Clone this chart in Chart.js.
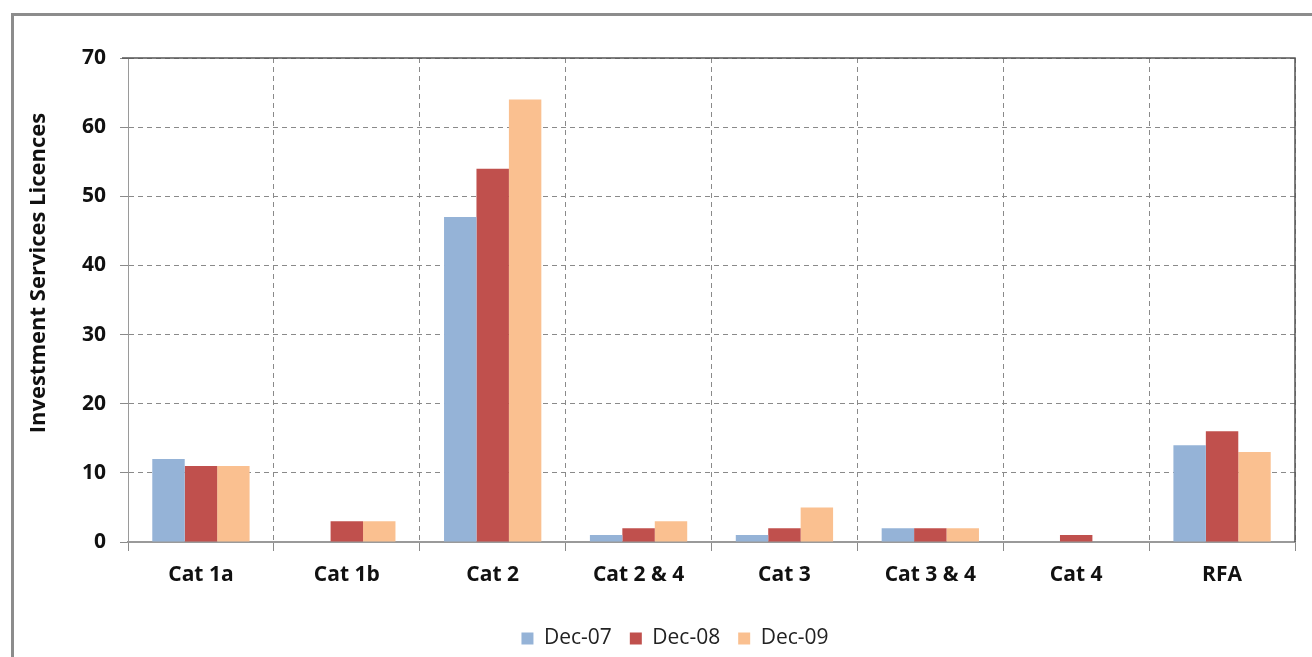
<!DOCTYPE html>
<html>
<head>
<meta charset="utf-8">
<style>
  html, body { margin: 0; padding: 0; background: #ffffff; }
  #wrap { width: 1312px; height: 657px; position: relative; }
</style>
<script src="https://cdn.jsdelivr.net/npm/chart.js@4.4.1/dist/chart.umd.min.js"></script>
</head>
<body>
<div id="wrap"><canvas id="chart" width="1312" height="657"></canvas></div>
<script>
// Investment services licences by category, year-end counts
const categories = ['Cat 1a', 'Cat 1b', 'Cat 2', 'Cat 2 & 4', 'Cat 3', 'Cat 3 & 4', 'Cat 4', 'RFA'];
const seriesNames = ['Dec-07', 'Dec-08', 'Dec-09'];
const dec07 = [12, 0, 47, 1, 1, 2, 0, 14];
const dec08 = [11, 3, 54, 2, 2, 2, 1, 16];
const dec09 = [11, 3, 64, 3, 5, 2, 0, 13];
const yTicks = [0, 10, 20, 30, 40, 50, 60, 70];
const yTitle = 'Investment Services Licences';

const colors = ['#95B3D7', '#C0504D', '#FAC090'];
const BOLD_FONT = '"Open Sans", Lato, sans-serif';
const LEGEND_FONT = '"Open Sans", Lato, sans-serif';

// Outer frame, solid top/right plot edges and the rotated y-axis title
const framePlugin = {
  id: 'frame',
  beforeDraw(chart) {
    const ctx = chart.ctx;
    ctx.save();
    ctx.strokeStyle = '#8c8c8c';
    ctx.lineWidth = 3;
    ctx.strokeRect(12.5, 14.5, 1400, 800);
    ctx.restore();
  },
  afterDatasetsDraw(chart) {
    const { ctx, chartArea: a } = chart;
    ctx.save();
    ctx.strokeStyle = '#555555';
    ctx.lineWidth = 1.5;
    ctx.beginPath();
    ctx.moveTo(a.left - 6, a.top);
    ctx.lineTo(a.right, a.top);
    ctx.lineTo(a.right, a.bottom);
    ctx.stroke();
    ctx.restore();

    ctx.save();
    ctx.translate(39, 273);
    ctx.rotate(-Math.PI / 2);
    ctx.font = 'bold 22px ' + BOLD_FONT;
    ctx.fillStyle = '#111111';
    ctx.textAlign = 'center';
    ctx.textBaseline = 'middle';
    ctx.fillText(yTitle, 0, 0);
    ctx.restore();
  }
};

new Chart(document.getElementById('chart'), {
  type: 'bar',
  data: {
    labels: categories,
    datasets: [dec07, dec08, dec09].map((vals, i) => ({
      label: seriesNames[i],
      data: vals,
      backgroundColor: colors[i],
      borderWidth: 0,
      categoryPercentage: 0.667,
      barPercentage: 1.0
    }))
  },
  options: {
    responsive: false,
    animation: false,
    layout: { padding: { left: 55, top: 58, right: 17, bottom: -2 } },
    plugins: {
      tooltip: { enabled: false },
      legend: {
        position: 'bottom',
        labels: {
          boxWidth: 12,
          boxHeight: 12,
          padding: 18,
          color: '#222222',
          font: { family: LEGEND_FONT, size: 21 }
        }
      }
    },
    scales: {
      x: {
        grid: {
          offset: true,
          color: '#8a8a8a',
          lineWidth: 1,
          tickLength: 9,
          tickColor: '#8a8a8a',
          tickBorderDash: []
        },
        border: { display: true, color: '#9a9a9a', width: 2, dash: [5, 4] },
        ticks: {
          padding: 11,
          color: '#111111',
          font: { family: BOLD_FONT, size: 21, weight: 'bold' }
        },
        afterFit(scale) { scale.height = 68; }
      },
      y: {
        min: 0,
        max: 70,
        afterBuildTicks(scale) { scale.ticks = yTicks.map(v => ({ value: v })); },
        grid: {
          color: '#8a8a8a',
          lineWidth: 1,
          tickLength: 8,
          tickColor: '#8a8a8a'
        },
        border: { display: true, color: '#9a9a9a', width: 1, dash: [5, 4] },
        ticks: {
          padding: 14,
          color: '#111111',
          font: { family: BOLD_FONT, size: 21, weight: 'bold' }
        },
        afterFit(scale) { scale.width = 73; }
      }
    }
  },
  plugins: [framePlugin]
});
</script>
</body>
</html>
